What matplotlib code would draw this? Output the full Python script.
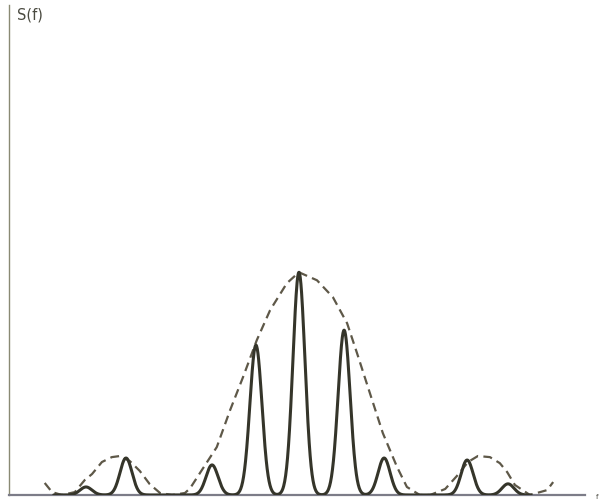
import matplotlib.pyplot as plt
import numpy as np

# harmonic peaks (position in harmonic units, relative height)
peak_pos = [-4.95, -4.02, -2.02, -1.0, 0.0, 1.05, 1.98, 3.91, 4.86]
peak_amp = [0.036, 0.166, 0.135, 0.673, 1.0, 0.74, 0.166, 0.157, 0.05]

# dashed envelope
env_x = [-5.91, -5.74, -5.51, -5.21, -4.98, -4.81, -4.58, -4.35, -4.16, -3.93,
         -3.70, -3.47, -3.23, -2.95, -2.65, -2.53, -2.30, -1.91, -1.60, -1.30,
         -0.98, -0.67, -0.28, 0.0, 0.42, 0.79, 1.12, 1.35, 1.65, 1.95,
         2.28, 2.51, 2.81, 3.05, 3.40, 3.67, 3.93, 4.16, 4.44, 4.67,
         4.84, 5.02, 5.37, 5.77, 5.91]
env_y = [0.054, 0.013, 0.0, 0.013, 0.067, 0.094, 0.148, 0.17, 0.175, 0.152,
         0.108, 0.049, 0.009, 0.0, 0.009, 0.030, 0.099, 0.215, 0.381, 0.529,
         0.695, 0.830, 0.951, 1.0, 0.964, 0.888, 0.771, 0.637, 0.457, 0.278,
         0.126, 0.036, 0.0, 0.0, 0.027, 0.085, 0.148, 0.175, 0.170, 0.143,
         0.103, 0.045, 0.0, 0.022, 0.058]

fig = plt.figure(figsize=(6, 5.01), dpi=100)
ax = fig.add_axes([0.015, 0.012, 0.96, 0.978])

# peaks drawn as narrow bumps on a common trace
xs = np.linspace(-5.7, 5.4, 1500)
ys = np.zeros_like(xs)
width = 0.14
for p, a in zip(peak_pos, peak_amp):
    ys += a * np.exp(-0.5 * ((xs - p) / width) ** 2)
ax.plot(xs, ys, color="#35352a", lw=2.2, solid_capstyle="round", zorder=3)

# envelope
ax.plot(env_x, env_y, color="#5e5848", lw=1.6, dashes=(4, 2.4), zorder=2)

ax.set_xlim(-6.74, 6.65)
ax.set_ylim(0, 2.2)
ax.set_xticks([])
ax.set_yticks([])
for s in ["top", "right"]:
    ax.spines[s].set_visible(False)
ax.spines["left"].set_color("#8a8a74")
ax.spines["left"].set_linewidth(1.0)
ax.spines["bottom"].set_color("#7c7c88")
ax.spines["bottom"].set_linewidth(1.6)

fig.text(17 / 600, 1 - 15 / 501, "S(f)", fontsize=10.5, color="#4a4a40",
         va="center", ha="left")
fig.text(596 / 600, 1 - 497 / 501, "f", fontsize=5, color="#4a4a40",
         va="center", ha="left")

fig.savefig("out.png", dpi=100)
